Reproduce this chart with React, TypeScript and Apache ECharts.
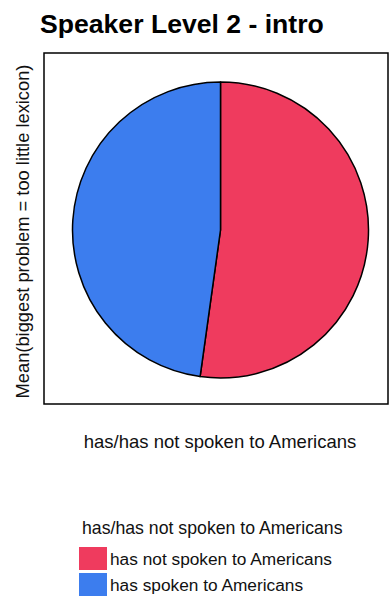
import React, { useEffect, useRef } from "react";
import * as echarts from "echarts";

const titleText = "Speaker Level 2 - intro";
const yAxisTitle = "Mean(biggest problem = too little lexicon)";
const xAxisTitle = "has/has not spoken to Americans";
const legendTitle = "has/has not spoken to Americans";
const categories = ["has not spoken to Americans", "has spoken to Americans"];
const values = [52.2, 47.8];
const colors = ["#EF3B5E", "#3C7DEE"];

const FONT = "'Liberation Sans', Arial, sans-serif";

export default function App() {
  const ref = useRef<HTMLDivElement>(null);
  useEffect(() => {
    if (!ref.current) return;
    const chart = echarts.init(ref.current, undefined, { renderer: "svg" });
    chart.setOption({
      animation: false,
      backgroundColor: "#ffffff",
      legend: {
        orient: "vertical",
        left: 79,
        top: 547,
        padding: 0,
        itemWidth: 28,
        itemHeight: 23,
        itemGap: 3,
        icon: "rect",
        selectedMode: false,
        itemStyle: { borderWidth: 0 },
        textStyle: { fontFamily: FONT, fontSize: 17.3, color: "#111", padding: [0, 0, 0, -2] },
        data: categories,
      },
      graphic: [
        {
          type: "rect",
          shape: { x: 44, y: 53, width: 344, height: 351 },
          style: { fill: "none", stroke: "#000", lineWidth: 1.5 },
          z: 0,
        },
        {
          type: "text",
          x: 40,
          y: 23.5,
          style: {
            text: titleText,
            font: `bold 26.6px ${FONT}`,
            fill: "#000",
            textAlign: "left",
            textVerticalAlign: "middle",
          },
        },
        {
          type: "text",
          x: 22.5,
          y: 231.5,
          rotation: Math.PI / 2,
          style: {
            text: yAxisTitle,
            font: `18.3px ${FONT}`,
            fill: "#111",
            textAlign: "center",
            textVerticalAlign: "middle",
          },
        },
        {
          type: "text",
          x: 220,
          y: 441.5,
          style: {
            text: xAxisTitle,
            font: `18.5px ${FONT}`,
            fill: "#111",
            textAlign: "center",
            textVerticalAlign: "middle",
          },
        },
        {
          type: "text",
          x: 82,
          y: 528,
          style: {
            text: legendTitle,
            font: `17.7px ${FONT}`,
            fill: "#111",
            textAlign: "left",
            textVerticalAlign: "middle",
          },
        },
      ],
      series: [
        {
          type: "pie",
          center: [220.5, 230],
          radius: [0, 148],
          startAngle: 90,
          clockwise: true,
          label: { show: false },
          labelLine: { show: false },
          emphasis: { disabled: true },
          itemStyle: { borderColor: "#000", borderWidth: 1.5 },
          data: categories.map((name, i) => ({
            name,
            value: values[i],
            itemStyle: { color: colors[i] },
          })),
        },
      ],
    });
    return () => chart.dispose();
  }, []);
  return (
    <div
      ref={ref}
      style={{ position: "fixed", left: 0, top: 0, width: 389, height: 597 }}
    />
  );
}
